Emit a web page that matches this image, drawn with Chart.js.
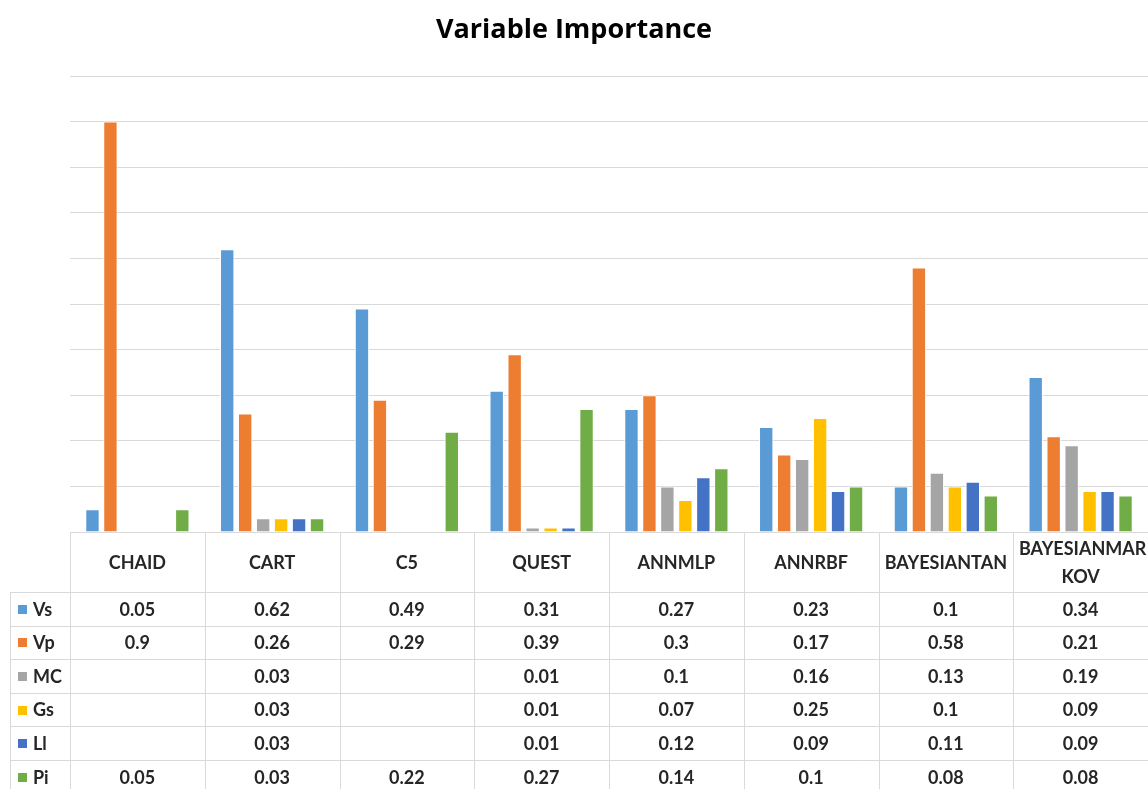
<!DOCTYPE html>
<html>
<head>
<meta charset="utf-8">
<script src="https://cdn.jsdelivr.net/npm/chart.js@4.4.1/dist/chart.umd.min.js"></script>
<style>
  html, body { margin: 0; padding: 0; background: #ffffff; overflow: hidden; }
  #wrap { width: 1148px; height: 789px; position: relative; }
</style>
</head>
<body>
<div id="wrap"><canvas id="chart" width="1148" height="789"></canvas></div>
<script>
// Models compared
const categories = ['CHAID', 'CART', 'C5', 'QUEST', 'ANNMLP', 'ANNRBF', 'BAYESIANTAN', 'BAYESIANMARKOV'];
// Header text as wrapped inside the data table cells
const headerLines = [['CHAID'], ['CART'], ['C5'], ['QUEST'], ['ANNMLP'], ['ANNRBF'], ['BAYESIANTAN'], ['BAYESIANMAR', 'KOV']];

// Importance per variable (null = not used by the model)
const vs = [0.05, 0.62, 0.49, 0.31, 0.27, 0.23, 0.1, 0.34];
const vp = [0.9, 0.26, 0.29, 0.39, 0.3, 0.17, 0.58, 0.21];
const mc = [null, 0.03, null, 0.01, 0.1, 0.16, 0.13, 0.19];
const gs = [null, 0.03, null, 0.01, 0.07, 0.25, 0.1, 0.09];
const ll = [null, 0.03, null, 0.01, 0.12, 0.09, 0.11, 0.09];
const pi = [0.05, 0.03, 0.22, 0.27, 0.14, 0.1, 0.08, 0.08];

const seriesNames = ['Vs', 'Vp', 'MC', 'Gs', 'Ll', 'Pi'];
const seriesValues = [vs, vp, mc, gs, ll, pi];
const seriesColors = ['#5B9BD5', '#ED7D31', '#A5A5A5', '#FFC000', '#4472C4', '#70AD47'];

const FONT = 'Lato, "Open Sans", "DejaVu Sans", sans-serif';
const TITLE_FONT = '"Open Sans", Lato, "DejaVu Sans", sans-serif';
const GRID = '#d9d9d9';
const TEXT = '#262626';

const datasets = seriesNames.map((name, i) => ({
  label: name,
  data: seriesValues[i],
  backgroundColor: seriesColors[i],
  borderColor: '#ffffff',
  borderWidth: 1,
  categoryPercentage: 0.8,
  barPercentage: 0.8
}));

// Chart title, centred on the whole canvas
const titlePlugin = {
  id: 'centredTitle',
  afterDraw(chart) {
    const ctx = chart.ctx;
    ctx.save();
    ctx.font = 'bold 27px ' + TITLE_FONT;
    ctx.fillStyle = '#000000';
    ctx.textAlign = 'center';
    ctx.textBaseline = 'middle';
    ctx.fillText('Variable Importance', chart.width / 2, 30);
    ctx.restore();
  }
};

// Data table drawn under the plot, aligned with the category scale
const dataTablePlugin = {
  id: 'dataTable',
  afterDraw(chart) {
    const ctx = chart.ctx;
    const x = chart.scales.x;
    const area = chart.chartArea;
    const n = categories.length;
    const step = x.getPixelForTick(1) - x.getPixelForTick(0);
    const top = area.bottom;
    const headerBottom = top + 60;
    const rowH = 33.6;
    const bottom = chart.height;
    const legendLeft = 10;

    ctx.save();
    ctx.strokeStyle = GRID;
    ctx.lineWidth = 1;

    // vertical cell borders
    for (let i = 0; i <= n; i++) {
      const px = Math.round(x.getPixelForTick(0) - step / 2 + i * step) + 0.5;
      ctx.beginPath();
      ctx.moveTo(px, top);
      ctx.lineTo(px, bottom);
      ctx.stroke();
    }
    // legend column left border
    ctx.beginPath();
    ctx.moveTo(legendLeft + 0.5, headerBottom);
    ctx.lineTo(legendLeft + 0.5, bottom);
    ctx.stroke();

    // horizontal row borders
    for (let r = 0; r <= seriesNames.length; r++) {
      const py = Math.round(headerBottom + r * rowH) + 0.5;
      ctx.beginPath();
      ctx.moveTo(legendLeft, py);
      ctx.lineTo(area.right, py);
      ctx.stroke();
    }

    ctx.textAlign = 'center';
    ctx.textBaseline = 'middle';
    ctx.fillStyle = TEXT;

    // header cells
    ctx.font = 'bold 18px ' + FONT;
    headerLines.forEach((lines, i) => {
      const cx = x.getPixelForTick(i);
      const cy = (top + headerBottom) / 2;
      if (lines.length === 1) {
        ctx.fillText(lines[0], cx, cy + 1);
      } else {
        ctx.fillText(lines[0], cx + 2, cy - 13);
        ctx.fillText(lines[1], cx, cy + 15);
      }
    });

    // value rows with legend keys
    seriesNames.forEach((name, r) => {
      const cy = headerBottom + r * rowH + rowH / 2;
      ctx.fillStyle = seriesColors[r];
      ctx.fillRect(18, Math.round(cy - 4), 9, 9);
      ctx.fillStyle = TEXT;
      ctx.textAlign = 'left';
      ctx.font = 'bold 18px ' + FONT;
      ctx.fillText(name, 33, cy + 1);
      ctx.textAlign = 'center';
      seriesValues[r].forEach((v, i) => {
        if (v === null || v === undefined) return;
        ctx.fillText(String(v), x.getPixelForTick(i), cy + 1);
      });
    });
    ctx.restore();
  }
};

new Chart(document.getElementById('chart'), {
  type: 'bar',
  data: { labels: categories, datasets },
  options: {
    responsive: false,
    animation: false,
    layout: { padding: { left: 70, right: 0, top: 76, bottom: 257 } },
    plugins: {
      legend: { display: false },
      tooltip: { enabled: false },
      title: { display: false }
    },
    scales: {
      x: {
        ticks: { display: false },
        grid: { display: false },
        border: { display: false },
        afterFit(s) { s.height = 0; }
      },
      y: {
        min: 0,
        max: 1,
        ticks: { display: false, stepSize: 0.1 },
        grid: { color: GRID, lineWidth: 1, drawTicks: false },
        border: { display: false },
        afterFit(s) { s.width = 0; }
      }
    }
  },
  plugins: [dataTablePlugin, titlePlugin]
});
</script>
</body>
</html>
